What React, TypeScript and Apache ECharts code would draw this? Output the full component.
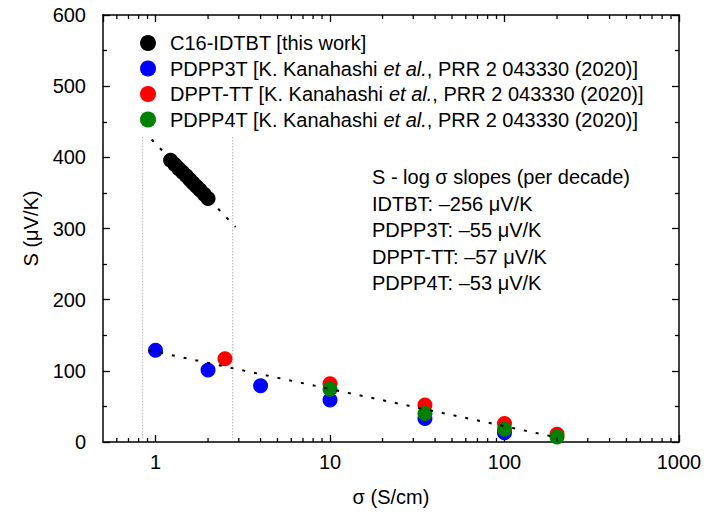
import React, { useEffect, useRef } from 'react';
import * as echarts from 'echarts';

const FONT = '"Liberation Sans", Arial, Helvetica, sans-serif';

// ---- data ----
const seriesNames = [
  'C16-IDTBT [this work]',
  'PDPP3T [K. Kanahashi et al., PRR 2 043330 (2020)]',
  'DPPT-TT [K. Kanahashi et al., PRR 2 043330 (2020)]',
  'PDPP4T [K. Kanahashi et al., PRR 2 043330 (2020)]',
];
const seriesColors = ['#000000', '#0000ff', '#ff0000', '#008000'];

const idtbtSigma = [1.22, 1.29, 1.36, 1.43, 1.5, 1.57, 1.64, 1.72, 1.8, 1.9, 2.0];
const idtbtS = [396, 390, 384, 379, 374, 369, 364, 359, 354, 348, 342];

const pdpp3tSigma = [1, 2, 4, 10, 35, 100];
const pdpp3tS = [129, 101, 79, 59, 33, 13];

const dppttSigma = [2.5, 10, 35, 100, 200];
const dppttS = [117, 82, 52, 26, 11];

const pdpp4tSigma = [10, 35, 100, 200];
const pdpp4tS = [74, 40, 18, 7];

const fit1Sigma = [0.95, 2.88];
const fit1S = [425, 302];
const fit2Sigma = [0.91, 195];
const fit2S = [129, 7];

const guideSigma = [0.84, 2.77];
const guideS = [5, 430];

const xMin = 0.5;
const xMax = 1000;
const yMin = 0;
const yMax = 600;
const yInterval = 100;
const xMinorTicks = [
  0.6, 0.7, 0.8, 0.9,
  2, 3, 4, 5, 6, 7, 8, 9,
  20, 30, 40, 50, 60, 70, 80, 90,
  200, 300, 400, 500, 600, 700, 800, 900,
];

const annotationLines = [
  'S - log σ slopes (per decade)',
  'IDTBT: –256 μV/K',
  'PDPP3T: –55 μV/K',
  'DPPT-TT: –57 μV/K',
  'PDPP4T: –53 μV/K',
];

const xAxisName = 'σ (S/cm)';
const yAxisName = 'S (μV/K)';

const zip = (a: number[], b: number[]) => a.map((v, i) => [v, b[i]]);

const isPow10 = (v: number) => {
  const l = Math.log10(v);
  return Math.abs(l - Math.round(l)) < 1e-6;
};

export default function App() {
  const ref = useRef<HTMLDivElement>(null);

  useEffect(() => {
    if (!ref.current) return;
    const chart = echarts.init(ref.current, undefined, { renderer: 'svg' });

    const axisLine = { show: true, onZero: false, lineStyle: { color: '#000', width: 1.5 } };
    const tick = { show: true, inside: true, length: 7, lineStyle: { color: '#000', width: 1.3 } };

    const scatterData = [
      zip(idtbtSigma, idtbtS),
      zip(pdpp3tSigma, pdpp3tS),
      zip(dppttSigma, dppttS),
      zip(pdpp4tSigma, pdpp4tS),
    ];

    const option: any = {
      animation: false,
      backgroundColor: '#fff',
      textStyle: { fontFamily: FONT },
      grid: { left: 103, right: 29, top: 15, bottom: 80, containLabel: false },
      legend: {
        data: seriesNames,
        orient: 'vertical',
        left: 135,
        top: 28,
        itemWidth: 16,
        itemHeight: 16,
        itemGap: 5.5,
        icon: 'circle',
        formatter: (name: string) => name.replace('et al.', '{i|et al.}'),
        textStyle: {
          fontSize: 20,
          fontFamily: FONT,
          color: '#000',
          lineHeight: 20,
          padding: [0, 0, 0, 9],
          rich: {
            i: { fontSize: 20, fontFamily: FONT, fontStyle: 'italic', color: '#000', lineHeight: 20 },
          },
        },
      },
      xAxis: [
        {
          type: 'log',
          logBase: 10,
          min: xMin,
          max: xMax,
          position: 'bottom',
          name: xAxisName,
          nameLocation: 'middle',
          nameGap: 45,
          nameTextStyle: { fontSize: 20, color: '#000', fontFamily: FONT },
          axisLine,
          axisTick: tick,
          axisLabel: {
            fontSize: 20,
            color: '#000',
            fontFamily: FONT,
            margin: 10,
            showMinLabel: false,
            formatter: (v: number) => (isPow10(v) ? String(Math.round(v)) : ''),
          },
          splitLine: { show: false },
        },
        {
          type: 'log',
          logBase: 10,
          min: xMin,
          max: xMax,
          position: 'top',
          axisLine,
          axisTick: tick,
          axisLabel: { show: false },
          splitLine: { show: false },
        },
      ],
      yAxis: [
        {
          type: 'value',
          min: yMin,
          max: yMax,
          interval: yInterval,
          position: 'left',
          name: yAxisName,
          nameLocation: 'middle',
          nameGap: 62,
          nameTextStyle: { fontSize: 20, color: '#000', fontFamily: FONT },
          axisLine,
          axisTick: tick,
          minorTick: { show: true, splitNumber: 2, length: 4, lineStyle: { color: '#000', width: 1.3 } },
          axisLabel: { fontSize: 20, color: '#000', fontFamily: FONT, margin: 17 },
          splitLine: { show: false },
        },
        {
          type: 'value',
          min: yMin,
          max: yMax,
          interval: yInterval,
          position: 'right',
          axisLine,
          axisTick: tick,
          minorTick: { show: true, splitNumber: 2, length: 4, lineStyle: { color: '#000', width: 1.3 } },
          axisLabel: { show: false },
          splitLine: { show: false },
        },
      ],
      graphic: [
        {
          type: 'text',
          left: 372,
          top: 164,
          style: {
            text: annotationLines.join('\n'),
            fontSize: 20,
            fontFamily: FONT,
            fill: '#000',
            lineHeight: 26.5,
          },
        },
      ],
      series: [
        ...guideSigma.map((s) => ({
          type: 'line',
          data: [[s, guideS[0]], [s, guideS[1]]],
          symbol: 'none',
          lineStyle: { color: '#b0b0b0', width: 1, type: [1.5, 1.5] },
          silent: true,
          z: 1,
        })),
        ...seriesNames.map((name, i) => ({
          type: 'scatter',
          name,
          data: scatterData[i],
          symbol: 'circle',
          symbolSize: 15,
          itemStyle: { color: seriesColors[i], opacity: 1 },
          z: 2 + i,
        })),
        {
          type: 'line',
          data: zip(fit1Sigma, fit1S),
          symbol: 'none',
          lineStyle: { color: '#000', width: 2, type: [3, 9] },
          silent: true,
          z: 10,
        },
        {
          type: 'line',
          data: zip(fit2Sigma, fit2S),
          symbol: 'none',
          lineStyle: { color: '#000', width: 2, type: [3, 9] },
          silent: true,
          z: 10,
        },
        {
          type: 'custom',
          data: xMinorTicks.map((v) => [v, yMin]),
          silent: true,
          clip: false,
          z: 11,
          renderItem: (_params: any, api: any) => {
            const x = api.value(0);
            const b = api.coord([x, yMin]);
            const t = api.coord([x, yMax]);
            const st = { stroke: '#000', lineWidth: 1.3 };
            return {
              type: 'group',
              children: [
                { type: 'line', shape: { x1: b[0], y1: b[1], x2: b[0], y2: b[1] - 4 }, style: st },
                { type: 'line', shape: { x1: t[0], y1: t[1], x2: t[0], y2: t[1] + 4 }, style: st },
              ],
            };
          },
        },
      ],
    };

    chart.setOption(option);
    return () => chart.dispose();
  }, []);

  return (
    <div
      ref={ref}
      style={{ position: 'absolute', left: 0, top: 0, width: 708, height: 522, background: '#fff' }}
    />
  );
}
